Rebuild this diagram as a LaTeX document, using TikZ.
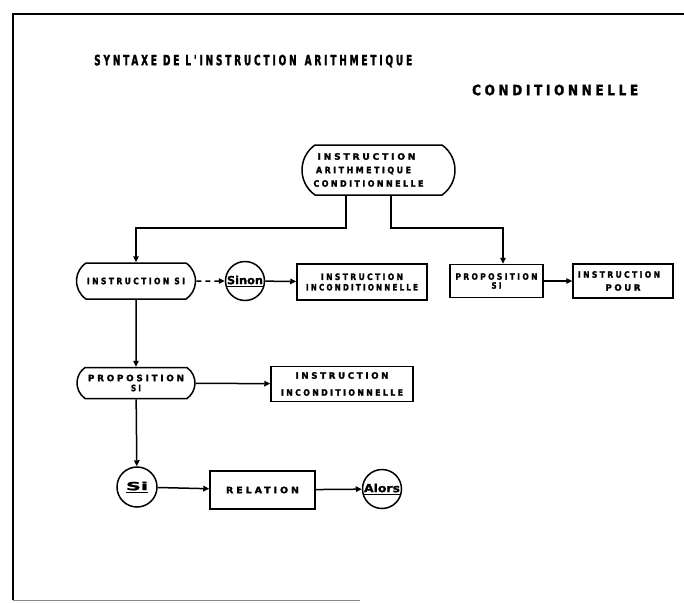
\documentclass[tikz,border=0pt]{standalone}
\usepackage{fontspec}
\usepackage{graphicx}
\usetikzlibrary{shapes.misc,arrows.meta}
\newfontfamily\condf[LetterSpace=28,FakeBold=2]{DejaVu Sans Condensed Bold}
\newfontfamily\boldf[FakeBold=1]{DejaVu Sans Condensed Bold}
\newcommand\lbl[3]{\resizebox{#1pt}{#2pt}{\condf #3}}
\newcommand\circlbl[2]{\underline{\resizebox{#1pt}{8.5pt}{\boldf #2}}}
\tikzset{
  every node/.style={inner sep=0pt, align=center},
  stad/.style={draw, line width=1.5pt, rounded rectangle, rounded rectangle arc length=110},
  rbox/.style={draw, line width=1.5pt, rectangle},
  ring/.style={draw, line width=1.5pt, circle, minimum size=39pt},
  arr/.style={line width=1.5pt, -{Triangle[length=6pt,width=5.5pt]}},
  frame/.style={line width=1.8pt}
}
\begin{document}
\begin{tikzpicture}[x=1pt,y=-1pt]
\useasboundingbox (0,0) rectangle (684,602);
% frame
\draw[frame] (684,14) -- (13,14) -- (13,600);
\draw[line width=1pt, black!45] (13,600) -- (360,600);
% title
\node[anchor=west] (t1) at (94,61) {\lbl{318}{10.5}{SYNTAXE DE L'INSTRUCTION\hspace{0.8em}ARITHMETIQUE}};
\node[anchor=west] (t2) at (472,90) {\lbl{166}{10.5}{CONDITIONNELLE}};
% nodes
\node[stad, minimum width=153pt, minimum height=50pt] (top) at (378.5,170)
  {\lbl{98}{6.5}{INSTRUCTION}\kern24pt\\[1.5pt]\lbl{95}{6.5}{ARITHMETIQUE}\kern30pt\\[1.5pt]\lbl{110}{6.5}{CONDITIONNELLE}\kern20pt};
\node[stad, minimum width=119pt, minimum height=36pt] (isi) at (136,281)
  {\lbl{98}{6.5}{INSTRUCTION SI}};
\node[ring] (sinon) at (245,281) {\circlbl{36}{Sinon}};
\node[rbox, minimum width=130pt, minimum height=36pt] (inc1) at (362,282)
  {\lbl{82}{6.5}{INSTRUCTION}\\[-1.5pt]\lbl{112}{6.5}{INCONDITIONNELLE}};
\node[rbox, minimum width=93pt, minimum height=33pt] (psi) at (496.5,281)
  {\lbl{82}{6.5}{PROPOSITION}\\[-3pt]\lbl{10}{6.5}{SI}};
\node[rbox, minimum width=100pt, minimum height=34pt] (pour) at (623,281)
  {\lbl{82}{6.5}{INSTRUCTION}\kern8pt\\[1pt]\lbl{35}{6.5}{POUR}};
\node[stad, minimum width=118pt, minimum height=31pt] (psl) at (136,383)
  {\lbl{96}{6.5}{PROPOSITION}\\[-2pt]\lbl{10}{6.5}{SI}};
\node[rbox, minimum width=142pt, minimum height=35pt] (inc2) at (342,384)
  {\lbl{93}{6.5}{INSTRUCTION}\\[5pt]\lbl{122}{6.5}{INCONDITIONNELLE}};
\node[ring, minimum size=40pt] (si) at (137,487) {\circlbl{22}{Si}};
\node[rbox, minimum width=105pt, minimum height=38pt] (rel) at (262.5,490)
  {\lbl{73}{6.5}{RELATION}};
\node[ring] (alors) at (382,489) {\circlbl{36}{Alors}};
% connectors
\draw[arr] ([xshift=-32.5pt]top.south) -- ++(0,32) -| (isi.north);
\draw[arr] ([xshift=12.5pt]top.south) -- ++(0,32) -| ([xshift=6.5pt]psi.north);
\draw[arr, dashed, dash pattern=on 5pt off 4pt] (isi) -- (sinon);
\draw[arr] (sinon) -- (inc1);
\draw[arr] (psi) -- (pour);
\draw[arr] (isi) -- (psl);
\draw[arr] (psl) -- (inc2);
\draw[arr] (psl) -- (si);
\draw[arr] (si) -- (rel);
\draw[arr] (rel) -- (alors);
\end{tikzpicture}
\end{document}
